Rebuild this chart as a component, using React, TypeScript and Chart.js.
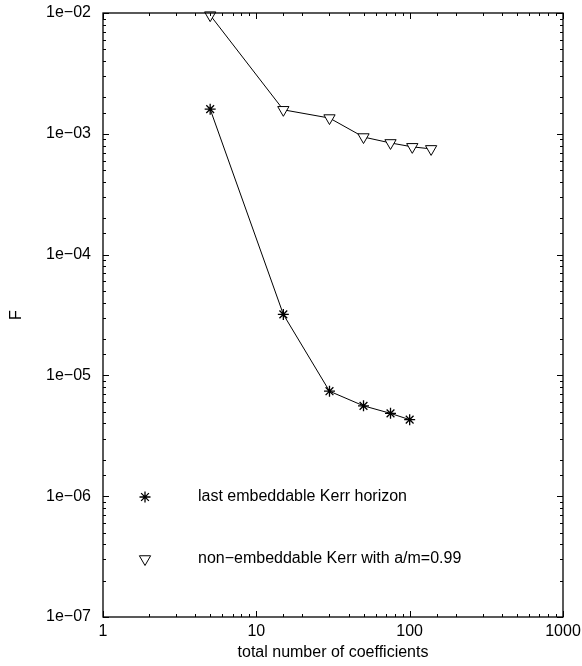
import React, { useEffect, useRef } from "react";
import { Chart, registerables } from "chart.js";

Chart.register(...registerables);

const FONT = "'Liberation Sans', Arial, Helvetica, sans-serif";

// Data
const starX = [5, 15, 30, 50, 75, 100];
const starY = [1.6e-3, 3.2e-5, 7.4e-6, 5.6e-6, 4.85e-6, 4.3e-6];
const triX = [5, 15, 30, 50, 75, 104, 138];
const triY = [9.6e-3, 1.58e-3, 1.35e-3, 9.4e-4, 8.4e-4, 7.8e-4, 7.5e-4];

const legendLabels = [
  "last embeddable Kerr horizon",
  "non\u2212embeddable Kerr with a/m=0.99",
];
const xTitle = "total number of coefficients";
const yTitle = "F";

const isPow10 = (v: number) => {
  const l = Math.log10(v);
  return Math.abs(l - Math.round(l)) < 1e-9;
};

const framePlugin = {
  id: "frameTicks",
  afterDraw(chart: any) {
    const ctx = chart.ctx;
    const { left, right, top, bottom } = chart.chartArea;
    const xs = chart.scales.x;
    const ys = chart.scales.y;
    ctx.save();
    ctx.strokeStyle = "#000";
    ctx.lineWidth = 1;
    // ticks
    ctx.beginPath();
    for (const t of xs.ticks) {
      const px = Math.round(xs.getPixelForValue(t.value)) + 0.5;
      const len = isPow10(t.value) ? 6 : 3;
      ctx.moveTo(px, bottom);
      ctx.lineTo(px, bottom - len);
      ctx.moveTo(px, top);
      ctx.lineTo(px, top + len);
    }
    for (const t of ys.ticks) {
      const py = Math.round(ys.getPixelForValue(t.value)) + 0.5;
      const len = isPow10(t.value) ? 6 : 3;
      ctx.moveTo(left, py);
      ctx.lineTo(left + len, py);
      ctx.moveTo(right, py);
      ctx.lineTo(right - len, py);
    }
    ctx.stroke();
    // frame
    ctx.lineWidth = 1.3;
    ctx.strokeRect(left, top, right - left, bottom - top);

    // axis titles
    ctx.fillStyle = "#000";
    ctx.font = `16px ${FONT}`;
    ctx.textAlign = "center";
    ctx.textBaseline = "middle";
    ctx.fillText(xTitle, (left + right) / 2, 653);
    ctx.save();
    ctx.translate(17, (top + bottom) / 2);
    ctx.rotate(-Math.PI / 2);
    ctx.fillText(yTitle, 0, 0);
    ctx.restore();

    // legend
    ctx.textAlign = "left";
    const lx = 145;
    const ly1 = 497;
    const ly2 = 559;
    // star marker
    ctx.lineWidth = 1.3;
    ctx.beginPath();
    const r = 5.5;
    for (let i = 0; i < 4; i++) {
      const a = (i * Math.PI) / 4;
      ctx.moveTo(lx - r * Math.cos(a), ly1 - r * Math.sin(a));
      ctx.lineTo(lx + r * Math.cos(a), ly1 + r * Math.sin(a));
    }
    ctx.stroke();
    // triangle marker (pointing down)
    ctx.lineWidth = 1;
    const tr = 6.5;
    ctx.beginPath();
    for (let i = 0; i < 3; i++) {
      const a = Math.PI / 2 + (i * 2 * Math.PI) / 3;
      const px = lx + tr * Math.cos(a);
      const py = ly2 + tr * Math.sin(a);
      if (i === 0) ctx.moveTo(px, py);
      else ctx.lineTo(px, py);
    }
    ctx.closePath();
    ctx.fillStyle = "#fff";
    ctx.fill();
    ctx.stroke();
    ctx.fillStyle = "#000";
    ctx.fillText(legendLabels[0], 198, ly1);
    ctx.fillText(legendLabels[1], 198, ly2);
    ctx.restore();
  },
};

export default function App() {
  const ref = useRef<HTMLCanvasElement | null>(null);
  useEffect(() => {
    if (!ref.current) return;
    const chart = new Chart(ref.current, {
      type: "scatter",
      data: {
        datasets: [
          {
            label: legendLabels[0],
            data: starX.map((x, i) => ({ x, y: starY[i] })),
            showLine: true,
            borderColor: "#000",
            backgroundColor: "#000",
            borderWidth: 1,
            pointStyle: "star",
            pointRadius: 5.5,
            pointBorderWidth: 1.3,
            pointBorderColor: "#000",
            clip: false as any,
          },
          {
            label: legendLabels[1],
            data: triX.map((x, i) => ({ x, y: triY[i] })),
            showLine: true,
            borderColor: "#000",
            backgroundColor: "#fff",
            borderWidth: 1,
            pointStyle: "triangle",
            pointRotation: 180,
            pointRadius: 6.5,
            pointBorderWidth: 1,
            pointBorderColor: "#000",
            pointBackgroundColor: "#fff",
            clip: false as any,
          },
        ],
      },
      options: {
        animation: false,
        responsive: false,
        devicePixelRatio: 1,
        layout: { padding: { top: 13, right: 19, left: 0, bottom: 0 } },
        plugins: {
          legend: { display: false },
          tooltip: { enabled: false },
        },
        scales: {
          x: {
            type: "logarithmic",
            min: 1,
            max: 1000,
            grid: { display: false, drawTicks: false },
            border: { display: false },
            afterFit: (s: any) => {
              s.height = 49;
              s.paddingLeft = 0;
              s.paddingRight = 0;
            },
            ticks: {
              autoSkip: false,
              maxRotation: 0,
              padding: 5,
              color: "#000",
              font: { family: FONT, size: 16 },
              callback: (v: any) => (isPow10(Number(v)) ? String(Math.round(Number(v))) : ""),
            },
          },
          y: {
            type: "logarithmic",
            min: 1e-7,
            max: 1e-2,
            grid: { display: false, drawTicks: false },
            border: { display: false },
            afterFit: (s: any) => {
              s.width = 103;
              s.paddingTop = 0;
              s.paddingBottom = 0;
            },
            ticks: {
              autoSkip: false,
              padding: 12,
              color: "#000",
              font: { family: FONT, size: 16 },
              callback: (v: any) => {
                const n = Number(v);
                if (!isPow10(n)) return "";
                const e = Math.round(Math.log10(n));
                const abs = Math.abs(e);
                return `1e${e < 0 ? "\u2212" : "+"}${abs < 10 ? "0" : ""}${abs}`;
              },
            },
          },
        },
      },
      plugins: [framePlugin],
    });
    return () => chart.destroy();
  }, []);
  return (
    <div style={{ position: "absolute", left: 0, top: 0, width: 582, height: 666, background: "#fff" }}>
      <canvas ref={ref} width={582} height={666} style={{ display: "block" }} />
    </div>
  );
}
